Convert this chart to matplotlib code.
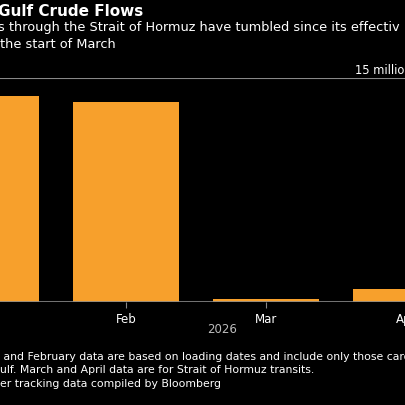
import matplotlib
matplotlib.use("Agg")
import matplotlib.pyplot as plt

months = ["Jan", "Feb", "Mar", "Apr"]
values = [13.8, 13.4, 0.2, 0.87]

fig = plt.figure(figsize=(4.06, 4.06), dpi=100, facecolor="black")
W = H = 406.0
ax = fig.add_axes([0, 1 - 303 / H, 1, (303 - 79) / H], facecolor="black")
x = list(range(len(months)))
ax.bar(x, values, width=0.757, color="#f7a02c", zorder=2)
ax.axhline(15, color="#888888", lw=0.8, zorder=1)
ax.axhline(0, color="#888888", lw=1.2, zorder=3)
for s in ax.spines.values():
    s.set_visible(False)
ax.set_yticks([])
ax.set_xticks(x)
ax.set_xticklabels(months, color="white", fontsize=8.5)
ax.tick_params(axis="x", colors="#888888", length=4, pad=3, labelcolor="white")
ax.set_xlim(0.1, 3.0)
ax.set_ylim(0, 15)

fig.text(-0.005, 1 - 11 / H, "Gulf Crude Flows", color="white", fontsize=11, fontweight="bold", va="center", ha="left")
fig.text(-0.005, 1 - 28 / H, "s through the Strait of Hormuz have tumbled since its effectiv", color="white", fontsize=9.3, va="center")
fig.text(0.0, 1 - 44 / H, "the start of March", color="white", fontsize=9.3, va="center")
fig.text(355 / W, 1 - 70 / H, "15 million", color="white", fontsize=8.3, va="center", ha="left")
fig.text(222 / W, 1 - 330 / H, "2026", color="#bbbbbb", fontsize=8.5, va="center", ha="center")
fig.text(0.0, 1 - 357 / H, " and February data are based on loading dates and include only those cargoes t", color="white", fontsize=7.8, va="center")
fig.text(0.0, 1 - 370 / H, "ulf. March and April data are for Strait of Hormuz transits.", color="white", fontsize=7.8, va="center")
fig.text(0.0, 1 - 384 / H, "er tracking data compiled by Bloomberg", color="white", fontsize=7.8, va="center")

fig.savefig("out.png", dpi=100, facecolor="black")
